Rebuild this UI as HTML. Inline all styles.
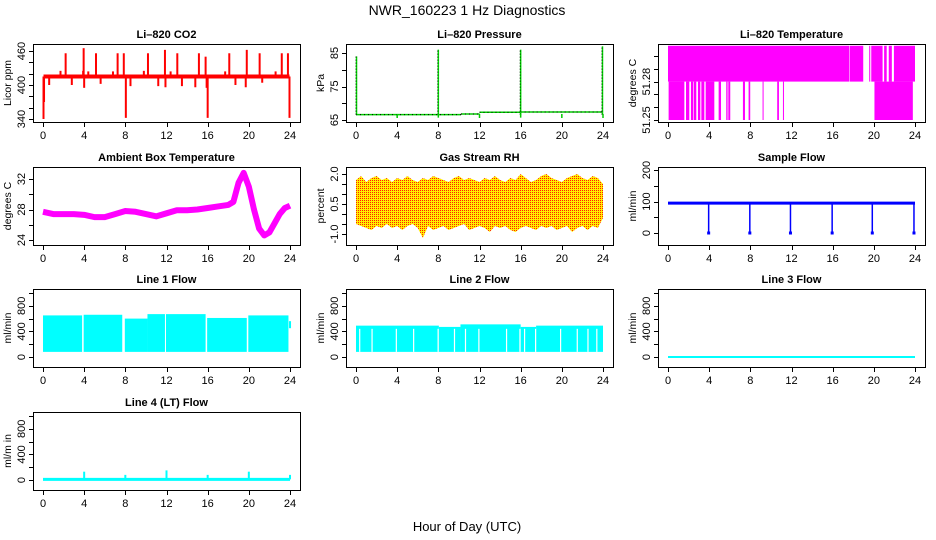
<!DOCTYPE html>
<html><head><meta charset="utf-8"><style>
html,body{margin:0;padding:0;background:#fff;}
svg{display:block;font-family:"Liberation Sans",Arial,sans-serif;}
</style></head><body>
<svg id="chart" width="936" height="540" viewBox="0 0 936 540">
<defs>
<pattern id="rhpat" width="2" height="2" patternUnits="userSpaceOnUse">
<rect width="2" height="2" fill="#ffee00"/><rect width="1" height="1" fill="#ff2000"/>
</pattern>
</defs>
<text x="467" y="15" text-anchor="middle" font-size="14">NWR_160223  1 Hz Diagnostics</text>
<text x="467" y="531" text-anchor="middle" font-size="13">Hour of Day (UTC)</text>
</svg>
<script>
// ---- data arrays ----
const xTicks=[0,4,8,12,16,20,24];
const co2Base=415;
const co2SpikeHours=[0.05,0.1,2.2,3.95,4.0,5.15,7.25,7.85,8.05,10.2,11.85,13.05,15.15,15.8,16.0,18.1,19.8,21.05,23.2,23.8,23.95,0.6,1.7,2.8,3.9,4.4,5.6,6.8,8.5,9.8,11.2,11.9,12.4,13.5,14.8,15.9,17.7,18.7,19.7,21.3,22.6];
const co2SpikeVals=[340,370,456,465,395,456,456,456,342,456,462,456,456,450,342,456,462,456,456,456,342,400,425,400,425,424,402,424,398,425,398,396,424,398,396,395,424,400,396,404,424];
const presSegStart=[0,10.2,12,16];
const presSegEnd=[10.2,12,16,24];
const presSegVal=[66.6,66.8,67.3,67.4];
const presSpikeHours=[0.05,8.0,16.0,23.95];
const presSpikeVals=[84,86,86,87];
const presDipHours=[4,8,12,16,20,24];
const presDipVals=[65.6,65.7,65.6,65.7,65.6,65.6];
const ltUpperStart=[0,17.65,19.55,19.75,21.0,21.45,21.95];
const ltUpperEnd=[17.6,18.97,19.65,20.85,21.25,21.75,24.0];
const ltLowerStart=[0.06,1.75,2.23,2.49,2.91,3.24,3.66,4.92,5.66,5.86,7.28,7.83,9.19,10.61,11.17,20.06];
const ltLowerEnd=[1.59,2.07,2.43,2.75,3.14,3.53,4.5,5.15,5.79,6.05,7.48,7.99,9.26,10.78,11.23,23.79];
const ambHours=[0,1,2,3,4,5,6,7,8,9,10,11,12,13,14,15,16,17,18,18.5,19,19.5,20,20.5,21,21.5,22,22.5,23,23.5,24];
const ambVals=[27.7,27.4,27.4,27.4,27.3,27.0,27.0,27.4,27.8,27.7,27.4,27.1,27.5,27.9,27.9,28.0,28.2,28.4,28.6,29.0,31.5,32.8,31.0,28.0,25.5,24.6,25.0,26.2,27.4,28.2,28.5];
const rhMax=[1.7,1.9,1.6,1.8,1.9,1.7,1.8,1.6,1.8,1.7,1.9,1.7,1.6,1.8,1.7,1.9,1.8,1.7,1.6,1.8,1.9,1.7,1.8,1.7,1.6,1.8,1.7,1.9,1.7,1.6,1.8,1.7,2.0,1.8,1.6,1.7,1.9,2.0,1.8,1.7,1.6,1.8,1.9,2.0,1.8,1.7,1.9,1.8,1.5];
const rhMin=[-0.5,-0.6,-0.7,-0.8,-0.6,-0.7,-0.5,-0.7,-0.6,-0.8,-0.6,-0.5,-0.7,-1.2,-0.6,-0.8,-0.7,-0.6,-0.8,-0.7,-0.6,-0.5,-0.8,-0.7,-0.6,-0.7,-0.9,-0.6,-0.7,-0.6,-0.8,-0.9,-0.7,-0.6,-0.7,-0.8,-0.6,-0.7,-0.6,-0.8,-0.7,-0.6,-0.9,-0.7,-0.6,-0.8,-0.6,-0.7,-0.2];
const sfBase=95;
const sfDipHours=[3.95,7.95,11.9,15.95,19.85,23.9];
const sfDipVals=[0,0,0,0,0,0];
const l1Start=[0,3.95,7.95,10.15,11.95,15.95,19.95,23.9];
const l1End=[3.8,7.7,10.15,11.85,15.8,19.8,23.85,24.1];
const l1Top=[650,660,600,670,670,610,650,560];
const l1Bottom=[80,80,80,80,80,80,80,450];
const l2Start=[0,8.05,10.15,16,17.5];
const l2End=[8.05,10.15,16,17.5,24];
const l2Top=[490,470,510,470,490];
const l2Bottom=80;
const l2Gaps=[0.36,1.56,3.92,5.6,7.98,9.57,10.64,11.94,14.63,15.93,16.38,17.45,19.88,21.5,22.54,23.4];
const l3Val=0;
const l4Base=10;
const l4SpikeHours=[4,8,12,16,20,24];
const l4SpikeVals=[130,80,150,80,130,80];

// ---- layout ----
const svg=document.getElementById('chart');
const NS='http://www.w3.org/2000/svg';
const colL=[33,346,658], rowT=[44,167,289,412], BW=267, BH=78;
function mk(tag,attrs,parent){const e=document.createElementNS(NS,tag);for(const k in attrs)e.setAttribute(k,attrs[k]);(parent||svg).appendChild(e);return e;}

function panel(col,row,cfg){
  const L=colL[col],T=rowT[row];
  const g=mk('g',{});
  
  
  const xs=h=>L+10+h*247/24;
  const ys=v=>T+cfg.pTop+(cfg.vTop-v)/(cfg.vTop-cfg.vBot)*(cfg.pBot-cfg.pTop);
  const plot=mk('g',{},g);
  
  
  cfg.draw(plot,xs,ys);
  const box=mk('rect',{x:L+0.5,y:T+0.5,width:BW,height:BH,fill:'none',stroke:'#000','stroke-width':1},g);
  
  
  const t=mk('text',{x:L+BW/2,y:T-6,'text-anchor':'middle','font-size':11,'font-weight':'bold'},g);
  t.textContent=cfg.title;
  
  
  const xa=mk('g',{},g);
  
  
  mk('line',{x1:xs(0),x2:xs(24),y1:T+BH+0.5,y2:T+BH+0.5,stroke:'#000'},xa);
  xTicks.forEach(h=>{
    mk('line',{x1:Math.round(xs(h))+0.5,x2:Math.round(xs(h))+0.5,y1:T+BH,y2:T+BH+5,stroke:'#000'},xa);
    const tl=mk('text',{x:xs(h),y:T+BH+17,'text-anchor':'middle','font-size':11},xa);
    tl.textContent=h;
    
    
  });
  const ya=mk('g',{},g);
  
  
  const tk=cfg.ticks;
  mk('line',{x1:L+0.5,x2:L+0.5,y1:ys(tk[0]),y2:ys(tk[tk.length-1]),stroke:'#000'},ya);
  tk.forEach(v=>{mk('line',{x1:L-4,x2:L+0.5,y1:Math.round(ys(v))+0.5,y2:Math.round(ys(v))+0.5,stroke:'#000'},ya);});
  cfg.labels.forEach(v=>{
    const yy=ys(v);
    const tl=mk('text',{x:L-8,y:yy,'text-anchor':'middle','font-size':11,transform:`rotate(-90 ${L-8} ${yy})`},ya);
    tl.textContent=cfg.fmt?cfg.fmt(v):v;
    
    
  });
  const yt=T+BH/2;
  const ytl=mk('text',{x:L-22,y:yt,'text-anchor':'middle','font-size':10.5,transform:`rotate(-90 ${L-22} ${yt})`},ya);
  ytl.textContent=cfg.ylab;
  
  
}
function vbar(p,x,y1,y2,color,w){return mk('line',{x1:x,x2:x,y1:y1,y2:y2,stroke:color,'stroke-width':w||1.5},p);}

panel(0,0,{name:'co2',title:'Li\u2013820 CO2',ylab:'Licor ppm',vTop:460,vBot:340,pTop:7,pBot:75,ticks:[340,360,380,400,420,440,460],labels:[340,400,460],
 draw:(p,xs,ys)=>{
  mk('line',{x1:xs(0.05),x2:xs(23.95),y1:ys(co2Base),y2:ys(co2Base),stroke:'#ff0000','stroke-width':4},p);
  co2SpikeHours.forEach((h,i)=>{const b=vbar(p,xs(h),ys(co2Base),ys(co2SpikeVals[i]),'#ff0000',2);});
 }});
panel(1,0,{name:'pressure',title:'Li\u2013820 Pressure',ylab:'kPa',vTop:85,vBot:65,pTop:9,pBot:76,ticks:[65,70,75,80,85],labels:[65,75,85],
 draw:(p,xs,ys)=>{
  presSegStart.forEach((s,i)=>{mk('line',{x1:xs(s),x2:xs(presSegEnd[i]),y1:ys(presSegVal[i]),y2:ys(presSegVal[i]),stroke:'#00cc00','stroke-width':1.5},p);
    mk('line',{x1:xs(s),x2:xs(presSegEnd[i]),y1:ys(presSegVal[i]),y2:ys(presSegVal[i]),stroke:'#000','stroke-width':1,'stroke-dasharray':'1 3'},p);});
  presSpikeHours.forEach((h,i)=>{vbar(p,xs(h),ys(66.6),ys(presSpikeVals[i]),'#00dd00',1.5);mk('line',{x1:xs(h)-0.5,x2:xs(h)-0.5,y1:ys(66.6),y2:ys(presSpikeVals[i]),stroke:'#000','stroke-dasharray':'1 2'},p);});
  presDipHours.forEach((h,i)=>vbar(p,xs(h),ys(66.8),ys(presDipVals[i]),'#00cc00',1.5));
 }});
panel(2,0,{name:'licor-temperature',title:'Li\u2013820 Temperature',ylab:'degrees C',vTop:51.30,vBot:51.25,pTop:12,pBot:76,ticks:[51.25,51.26,51.27,51.28,51.29,51.30],labels:[51.25,51.28],fmt:v=>v.toFixed(2),
 draw:(p,xs,ys)=>{
  ltUpperStart.forEach((s,i)=>{const r=mk('rect',{x:xs(s),y:ys(51.308),width:xs(ltUpperEnd[i])-xs(s),height:ys(51.28)-ys(51.308),fill:'#ff00ff'},p);});
  ltLowerStart.forEach((s,i)=>{const r=mk('rect',{x:xs(s),y:ys(51.28),width:Math.max(1,xs(ltLowerEnd[i])-xs(s)),height:ys(51.25)-ys(51.28),fill:'#ff00ff'},p);});
 }});
panel(0,1,{name:'ambient-temperature',title:'Ambient Box Temperature',ylab:'degrees C',vTop:32,vBot:24,pTop:12,pBot:73,ticks:[24,26,28,30,32],labels:[24,28,32],
 draw:(p,xs,ys)=>{
  const pts=ambHours.map((h,i)=>xs(h)+','+ys(ambVals[i])).join(' ');
  mk('polyline',{points:pts,fill:'none',stroke:'#ff00ff','stroke-width':6,'stroke-linejoin':'round'},p);
 }});
panel(1,1,{name:'gas-stream-rh',title:'Gas Stream RH',ylab:'percent',vTop:2.0,vBot:-1.0,pTop:7,pBot:67,ticks:[-1.0,-0.5,0,0.5,1.0,1.5,2.0],labels:[-1.0,0.5,2.0],fmt:v=>v.toFixed(1),
 draw:(p,xs,ys)=>{
  let up=rhMax.map((v,i)=>xs(i*0.5)+','+ys(v));
  let lo=rhMin.map((v,i)=>xs(i*0.5)+','+ys(v)).reverse();
  mk('polygon',{points:up.concat(lo).join(' '),fill:'url(#rhpat)'},p);
 }});
panel(2,1,{name:'sample-flow',title:'Sample Flow',ylab:'ml/min',vTop:200,vBot:0,pTop:3,pBot:66,ticks:[0,50,100,150,200],labels:[0,100,200],
 draw:(p,xs,ys)=>{
  mk('line',{x1:xs(0),x2:xs(24),y1:ys(sfBase),y2:ys(sfBase),stroke:'#0000ff','stroke-width':3},p);
  sfDipHours.forEach((h,i)=>{vbar(p,xs(h),ys(sfBase),ys(sfDipVals[i]),'#0000ff',1.5);mk('rect',{x:xs(h)-1.5,y:ys(sfDipVals[i])-1.5,width:3,height:3,fill:'#0000ff'},p);});
 }});
const flowCfg={ylab:'ml/min',vTop:1000,vBot:0,pTop:4,pBot:68,ticks:[0,200,400,600,800,1000],labels:[0,400,800]};
panel(0,2,Object.assign({},flowCfg,{name:'line-1-flow',title:'Line 1 Flow',
 draw:(p,xs,ys)=>{l1Start.forEach((s,i)=>{const r=mk('rect',{x:xs(s),y:ys(l1Top[i]),width:xs(l1End[i])-xs(s),height:ys(l1Bottom[i])-ys(l1Top[i]),fill:'#00ffff'},p);});}}));
panel(1,2,Object.assign({},flowCfg,{name:'line-2-flow',title:'Line 2 Flow',
 draw:(p,xs,ys)=>{l2Start.forEach((s,i)=>{mk('rect',{x:xs(s),y:ys(l2Top[i]),width:xs(l2End[i])-xs(s),height:ys(l2Bottom)-ys(l2Top[i]),fill:'#00ffff'},p);});
  l2Gaps.forEach(h=>vbar(p,xs(h),ys(440),ys(l2Bottom),'#ffffff',1.2));}}));
panel(2,2,Object.assign({},flowCfg,{name:'line-3-flow',title:'Line 3 Flow',
 draw:(p,xs,ys)=>{mk('line',{x1:xs(0),x2:xs(24),y1:ys(l3Val),y2:ys(l3Val),stroke:'#00ffff','stroke-width':2},p);}}));
panel(0,3,Object.assign({},flowCfg,{name:'line-4-flow',title:'Line 4 (LT) Flow',ylab:'ml/m in',
 draw:(p,xs,ys)=>{mk('line',{x1:xs(0),x2:xs(24),y1:ys(l4Base),y2:ys(l4Base),stroke:'#00ffff','stroke-width':3},p);
  l4SpikeHours.forEach((h,i)=>vbar(p,xs(h),ys(l4Base),ys(l4SpikeVals[i]),'#00ffff',2));}}));
</script>
</body></html>
